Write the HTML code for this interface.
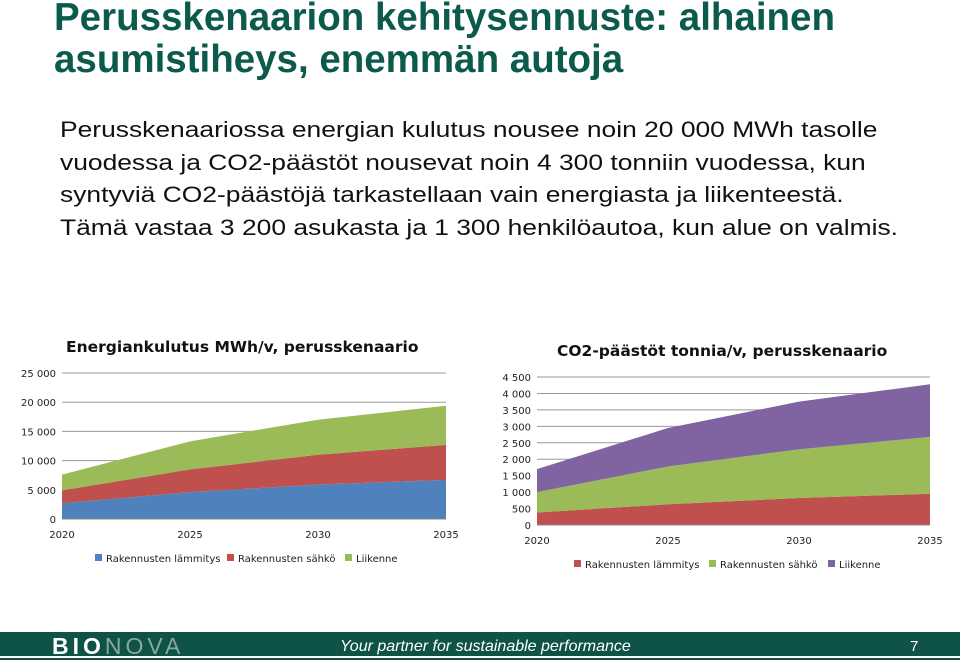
<!DOCTYPE html>
<html><head><meta charset="utf-8"><style>
body{margin:0;width:960px;height:664px;background:#fff;position:relative;overflow:hidden;font-family:"Liberation Sans",sans-serif}
#title{position:absolute;left:54px;top:-3px;font-size:38.5px;font-weight:bold;color:#0b5a4c;line-height:42px;margin:0;white-space:nowrap}
#body{position:absolute;left:60px;top:114px;font-size:22px;line-height:32.5px;color:#111;transform:scaleX(1.2);transform-origin:0 0;white-space:nowrap}
#footer{position:absolute;left:0;top:632px;width:960px;height:28px;background:#0e5248}
#fline{position:absolute;left:0;top:656px;width:960px;height:2px;background:#fff}
svg text{font-family:"DejaVu Sans","Liberation Sans",sans-serif}
</style></head><body>
<h1 id="title">Perusskenaarion kehitysennuste: alhainen<br>asumistiheys, enemmän autoja</h1>
<div id="body">Perusskenaariossa energian kulutus nousee noin 20 000 MWh tasolle<br>vuodessa ja CO2-päästöt nousevat noin 4 300 tonniin vuodessa, kun<br>syntyviä CO2-päästöjä tarkastellaan vain energiasta ja liikenteestä.<br>Tämä vastaa 3 200 asukasta ja 1 300 henkilöautoa, kun alue on valmis.</div>
<svg id="c1" width="960" height="620" style="position:absolute;left:0;top:0"></svg>
<div id="footer">
<div style="position:absolute;left:52px;top:1px;font-size:23px;font-weight:bold;letter-spacing:4px;color:#fff">BIO<span style="color:#8aa7a1;font-weight:normal">NOVA</span></div>
<div style="position:absolute;left:340px;top:6px;font-size:16px;font-style:italic;color:#fff">Your partner for sustainable performance</div>
<div style="position:absolute;left:910px;top:6px;font-size:15px;color:#fff">7</div>
</div>
<div id="fline"></div>
<script>
const years=[2020,2025,2030,2035];
const e_heat=[2700,4600,5900,6700];
const e_elec=[2200,3900,5100,6000];
const e_traffic=[2700,4800,6000,6700];
const e_ticks=[0,5000,10000,15000,20000,25000];
const c_heat=[380,630,820,950];
const c_elec=[620,1150,1480,1730];
const c_traffic=[700,1170,1450,1600];
const c_ticks=[0,500,1000,1500,2000,2500,3000,3500,4000,4500];
const svg=document.getElementById('c1');
const NS='http://www.w3.org/2000/svg';
function mk(t,a,txt){const e=document.createElementNS(NS,t);for(const k in a)e.setAttribute(k,a[k]);if(txt!=null)e.textContent=txt;svg.appendChild(e);return e;}
function fmt(v){return String(v).replace(/\B(?=(\d{3})+(?!\d))/g,' ');}
function chart(cfg){
  const x=y=>cfg.x0+(y-years[0])/(years[years.length-1]-years[0])*(cfg.x1-cfg.x0);
  const yv=v=>cfg.y0-v/cfg.max*(cfg.y0-cfg.y1);
  let t=mk('text',{x:cfg.tx,y:cfg.ty,'font-size':15.5,'font-weight':'bold',fill:'#111'},cfg.title);
  
  cfg.ticks.forEach(v=>{
    let g=mk('line',{x1:cfg.x0,x2:cfg.x1,y1:yv(v),y2:yv(v),stroke:'#9a9a9a','stroke-width':1});
    
    let l=mk('text',{x:cfg.x0-6,y:yv(v)+4,'font-size':10,'text-anchor':'end',fill:'#222'},fmt(v));
    
  });
  let base=years.map(()=>0);
  cfg.series.forEach((s,si)=>{
    const top=base.map((b,i)=>b+s.vals[i]);
    let pts=years.map((yr,i)=>x(yr)+','+yv(top[i]));
    for(let i=years.length-1;i>=0;i--)pts.push(x(years[i])+','+yv(base[i]));
    let p=mk('polygon',{points:pts.join(' '),fill:s.color});
    
    base=top;
  });
  let ax=mk('line',{x1:cfg.x0,x2:cfg.x1,y1:cfg.y0,y2:cfg.y0,stroke:'#888'});
  
  years.forEach(yr=>{
    let l=mk('text',{x:x(yr),y:cfg.y0+19,'font-size':10,'text-anchor':'middle',fill:'#222'},yr);
    
  });
  let lx=cfg.lx;
  cfg.legend.forEach(s=>{
    let r=mk('rect',{x:lx,y:cfg.ly-8,width:7,height:7,fill:s.color});
    
    let l=mk('text',{x:lx+11,y:cfg.ly,'font-size':10,fill:'#222'},s.name);
    
    lx+=s.w;
  });
}
const B='#4f81bd',R='#c0504d',G='#9bbb59',P='#8064a2';
chart({id:'energy',x0:62,x1:446,y0:519,y1:373,max:25000,ticks:e_ticks,title:'Energiankulutus MWh/v, perusskenaario',tx:66,ty:352,
 series:[{key:'heat',vals:e_heat,color:B},{key:'elec',vals:e_elec,color:R},{key:'traffic',vals:e_traffic,color:G}],
 legend:[{name:'Rakennusten lämmitys',color:B,w:132},{name:'Rakennusten sähkö',color:R,w:118},{name:'Liikenne',color:G,w:60}],lx:95,ly:562});
chart({id:'co2',x0:537,x1:930,y0:525,y1:377,max:4500,ticks:c_ticks,title:'CO2-päästöt tonnia/v, perusskenaario',tx:557,ty:356,
 series:[{key:'heat',vals:c_heat,color:R},{key:'elec',vals:c_elec,color:G},{key:'traffic',vals:c_traffic,color:P}],
 legend:[{name:'Rakennusten lämmitys',color:R,w:135},{name:'Rakennusten sähkö',color:G,w:119},{name:'Liikenne',color:P,w:60}],lx:574,ly:568});
</script>
</body></html>
